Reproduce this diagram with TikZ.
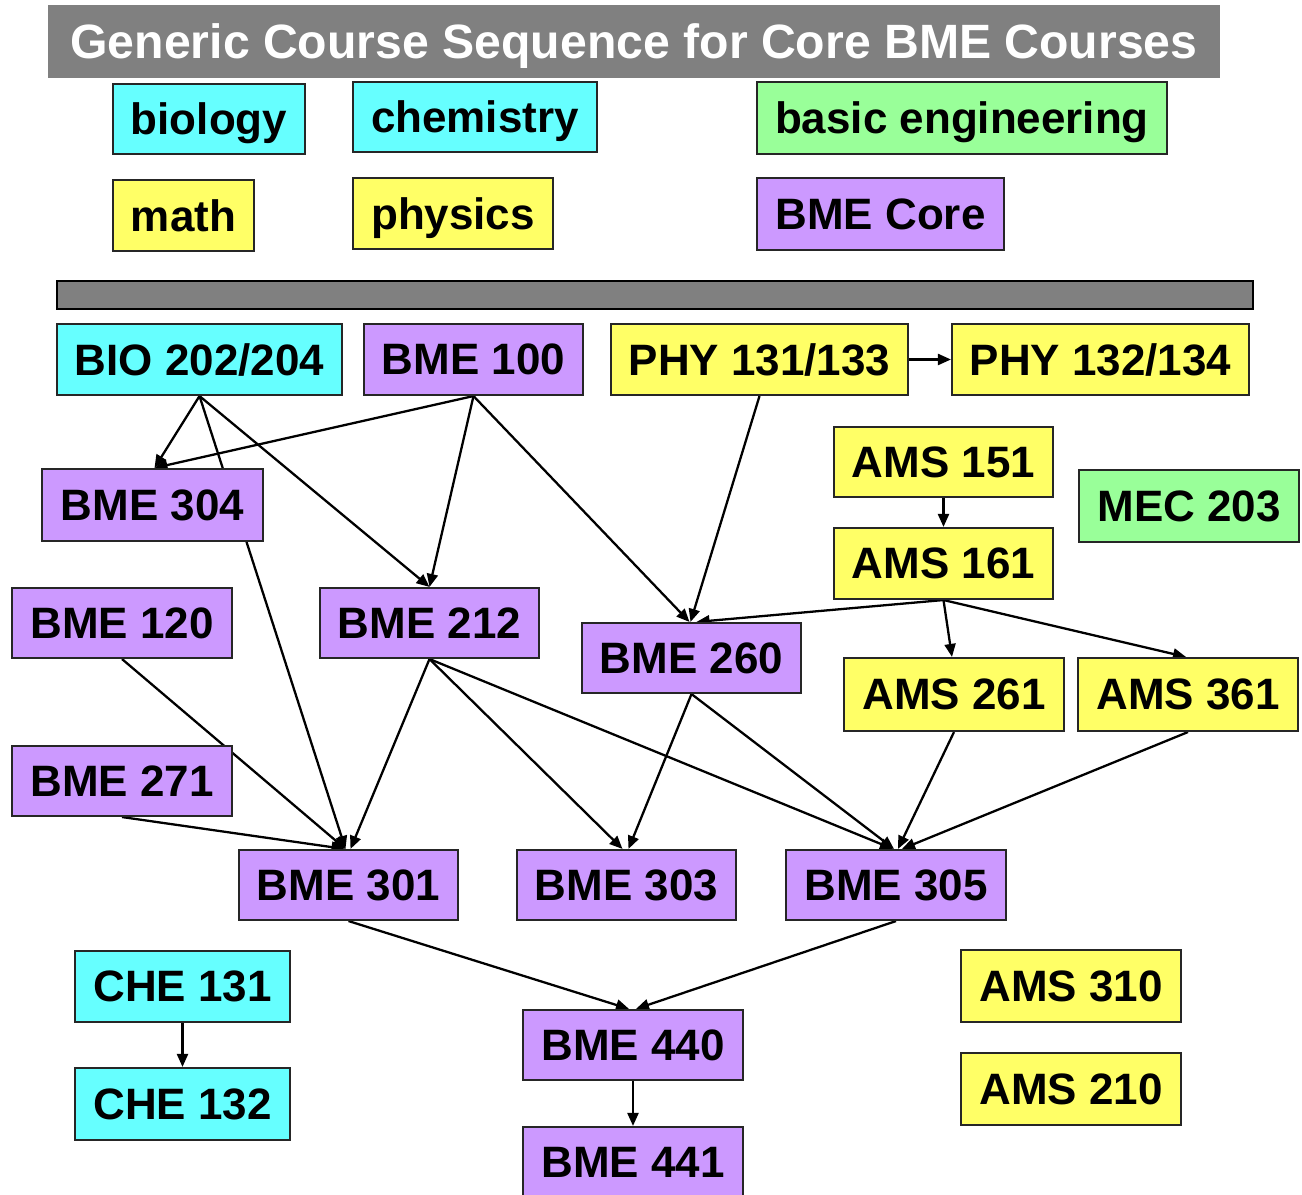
\documentclass[tikz,border=0pt]{standalone}
\usepackage{fontspec}
\setmainfont{Liberation Sans}
\usetikzlibrary{arrows.meta,calc,backgrounds}
\definecolor{cbio}{HTML}{66FFFF}
\definecolor{cmath}{HTML}{FFFF66}
\definecolor{cbme}{HTML}{CC99FF}
\definecolor{ceng}{HTML}{99FF99}
\definecolor{cbar}{HTML}{808080}
\tikzset{
  bx/.style 2 args={draw=black!85, line width=0.6pt, inner sep=0pt, text depth=0pt,
    minimum width={0.01cm*#1}, minimum height={0.01cm*#2},
    font=\fontsize{12.5pt}{14pt}\selectfont\bfseries},
  bio/.style={fill=cbio},
  mth/.style={fill=cmath},
  bme/.style={fill=cbme},
  eng/.style={fill=ceng},
  arr/.style={line width=0.65pt, -{Triangle[length=0.13cm,width=0.11cm]}},
}
\begin{document}
\begin{tikzpicture}[x=0.01cm,y=-0.01cm]
\useasboundingbox (0,0) rectangle (1302,1195);
% title
\node[fill=cbar, inner sep=0pt, text depth=0pt, minimum width={0.01cm*1172}, minimum height={0.01cm*73},
  text=white, font=\fontsize{13.7pt}{16pt}\selectfont\bfseries] (title) at (634,41.5)
  {Generic Course Sequence for Core BME Courses};
% legend
\node[bx={192}{70},bio] (lbio) at (209,119) {biology};
\node[bx={244}{70},bio] (lchem) at (475,117) {chemistry};
\node[bx={410}{72},eng] (leng) at (962,118) {basic engineering};
\node[bx={141}{71},mth] (lmath) at (183.5,215.5) {math};
\node[bx={200}{71},mth] (lphys) at (453,213.5) {physics};
\node[bx={247}{72},bme] (lbme) at (880.5,214) {BME Core};
% separator bar
\node[draw=black, fill=cbar, line width=0.8pt, inner sep=0pt, minimum width={0.01cm*1196},
  minimum height={0.01cm*28}] (bar) at (655,295) {};
% courses
\node[bx={285}{71},bio] (bio) at (199.5,359.5) {BIO 202/204};
\node[bx={219}{71},bme] (b100) at (473.5,359.5) {BME 100};
\node[bx={297}{71},mth] (phy1) at (759.5,359.5) {PHY 131/133};
\node[bx={297}{71},mth] (phy2) at (1100.5,359.5) {PHY 132/134};
\node[bx={219}{70},mth] (a151) at (943.5,462) {AMS 151};
\node[bx={220}{72},eng] (mec) at (1189,506) {MEC 203};
\node[bx={219}{71},mth] (a161) at (943.5,563.5) {AMS 161};
\node[bx={221}{72},bme] (b304) at (152.5,505) {BME 304};
\node[bx={220}{70},bme] (b120) at (122,623) {BME 120};
\node[bx={219}{70},bme] (b212) at (429.5,623) {BME 212};
\node[bx={219}{70},bme] (b260) at (691.5,658) {BME 260};
\node[bx={220}{73},mth] (a261) at (954,694.5) {AMS 261};
\node[bx={220}{73},mth] (a361) at (1188,694.5) {AMS 361};
\node[bx={220}{70},bme] (b271) at (122,781) {BME 271};
\node[bx={219}{70},bme] (b301) at (348.5,885) {BME 301};
\node[bx={219}{70},bme] (b303) at (626.5,885) {BME 303};
\node[bx={220}{70},bme] (b305) at (896,885) {BME 305};
\node[bx={215}{71},bio] (c131) at (182.5,986.5) {CHE 131};
\node[bx={215}{72},bio] (c132) at (182.5,1104) {CHE 132};
\node[bx={220}{70},bme] (b440) at (633,1045) {BME 440};
\node[bx={220}{70},bme] (b441) at (633,1162) {BME 441};
\node[bx={220}{72},mth] (a310) at (1071,986) {AMS 310};
\node[bx={220}{72},mth] (a210) at (1071,1089) {AMS 210};
% connectors
\begin{scope}[on background layer]
\draw[arr] (phy1.east) -- (phy2.west);
\draw[arr] (bio.south) -- ($(b304.north)+(2,0)$);
\draw[arr] (bio.south) -- (b212.north);
\draw[arr] (bio.south) -- ($(b301.north)+(-3,0)$);
\draw[arr] (b100.south) -- ($(b304.north)+(2,0)$);
\draw[arr] (b100.south) -- (b212.north);
\draw[arr] (b100.south) -- ($(b260.north)+(-2,0)$);
\draw[arr] (phy1.south) -- ($(b260.north)+(-1,0)$);
\draw[arr] (a151.south) -- (a161.north);
\draw[arr] (a161.south) -- ($(b260.north)+(5,0)$);
\draw[arr] (a161.south) -- ($(a261.north)+(-2,0)$);
\draw[arr] (a161.south) -- ($(a361.north)+(-2,0)$);
\draw[arr] (b120.south) -- ($(b301.north)+(-3,0)$);
\draw[arr] (b271.south) -- ($(b301.north)+(-4,0)$);
\draw[arr] (b212.south) -- ($(b301.north)+(2,0)$);
\draw[arr] (b212.south) -- ($(b303.north)+(-4,0)$);
\draw[arr] (b212.south) -- ($(b305.north)+(-3,0)$);
\draw[arr] (b260.south) -- ($(b303.north)+(2,0)$);
\draw[arr] (b260.south) -- ($(b305.north)+(-2,0)$);
\draw[arr] (a261.south) -- ($(b305.north)+(2,0)$);
\draw[arr] (a361.south) -- ($(b305.north)+(6,0)$);
\draw[arr] (b301.south) -- ($(b440.north)+(-4,0)$);
\draw[arr] (b305.south) -- ($(b440.north)+(3,0)$);
\draw[arr] (b440.south) -- (b441.north);
\draw[arr] (c131.south) -- (c132.north);
\end{scope}
\end{tikzpicture}
\end{document}
